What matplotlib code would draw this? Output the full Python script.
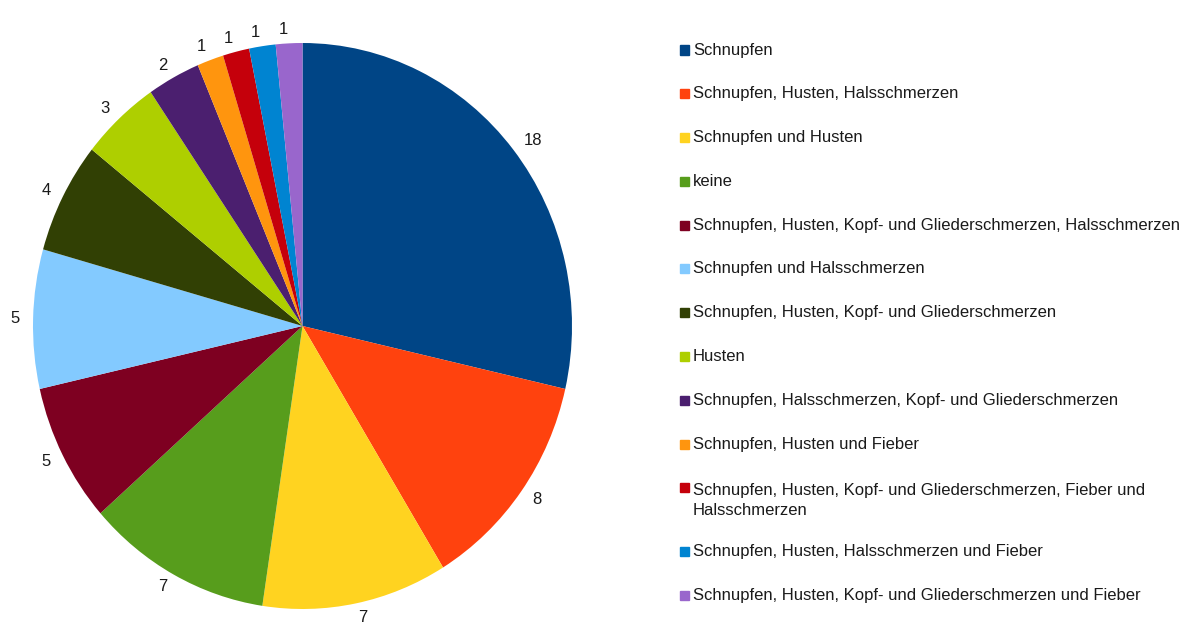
import matplotlib.pyplot as plt
from matplotlib.patches import Rectangle

plt.rcParams['font.family'] = ['Liberation Sans', 'DejaVu Sans']

labels = [
    'Schnupfen',
    'Schnupfen, Husten, Halsschmerzen',
    'Schnupfen und Husten',
    'keine',
    'Schnupfen, Husten, Kopf- und Gliederschmerzen, Halsschmerzen',
    'Schnupfen und Halsschmerzen',
    'Schnupfen, Husten, Kopf- und Gliederschmerzen',
    'Husten',
    'Schnupfen, Halsschmerzen, Kopf- und Gliederschmerzen',
    'Schnupfen, Husten und Fieber',
    'Schnupfen, Husten, Kopf- und Gliederschmerzen, Fieber und\nHalsschmerzen',
    'Schnupfen, Husten, Halsschmerzen und Fieber',
    'Schnupfen, Husten, Kopf- und Gliederschmerzen und Fieber',
]
values = [18, 8, 7, 7, 5, 5, 4, 3, 2, 1, 1, 1, 1]
colors = ['#004586', '#ff420e', '#ffd320', '#579d1c', '#7e0021', '#83caff',
          '#314004', '#aecf00', '#4b1f6f', '#ff950e', '#c5000b', '#0084d1',
          '#9966cc']

fig = plt.figure(figsize=(11.8, 6.31), dpi=100)
# pie box: x 33..572 px, y 43..609 px (slightly taller than wide, as in the reference)
ax = fig.add_axes([33 / 1180, 22 / 631, 539 / 1180, 566 / 631])
ax.pie(values, colors=colors, labels=[str(v) for v in values],
       startangle=90, counterclock=False, labeldistance=1.05,
       textprops={'fontsize': 12, 'color': '#1a1a1a'},
       wedgeprops={'linewidth': 0})
ax.set_xlim(-1, 1)
ax.set_ylim(-1, 1)
ax.set_aspect('auto')
ax.axis('off')

# legend drawn by hand
y = 1 - 50 / 631
for lab, col in zip(labels, colors):
    fig.patches.append(Rectangle((680 / 1180, y - 4.5 / 631), 9 / 1180, 9 / 631,
                                 transform=fig.transFigure, color=col))
    if '\n' in lab:
        fig.text(693 / 1180, y + 5 / 631, lab, fontsize=12, color='#1a1a1a',
                 va='top', linespacing=1.45)
        y -= 63.5 / 631
    else:
        fig.text(693 / 1180, y, lab, fontsize=12, color='#1a1a1a', va='center')
        y -= 43.8 / 631

fig.savefig('out.png', dpi=100)
